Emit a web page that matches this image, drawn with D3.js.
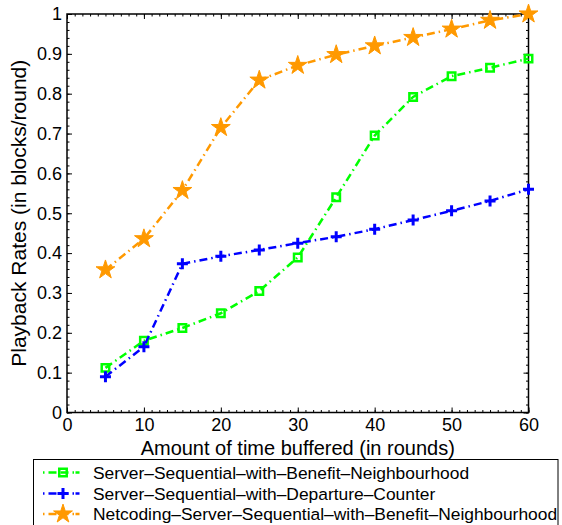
<!DOCTYPE html>
<html>
<head>
<meta charset="utf-8">
<script src="https://cdn.jsdelivr.net/npm/d3@7"></script>
<style>
  html, body { margin: 0; padding: 0; background: #fff; }
  svg { display: block; font-family: "Liberation Sans", Arial, Helvetica, sans-serif; }
</style>
</head>
<body>
<script>
// Rounds buffered (x) and playback rates for each scheme
const rounds = [5, 10, 15, 20, 25, 30, 35, 40, 45, 50, 55, 60];
const benefitNeighbourhood = [0.112, 0.180, 0.212, 0.249, 0.305, 0.389, 0.540, 0.695, 0.792, 0.844, 0.865, 0.888];
const departureCounter = [0.090, 0.165, 0.373, 0.392, 0.408, 0.425, 0.441, 0.460, 0.483, 0.506, 0.531, 0.560];
const netcodingBenefit = [0.358, 0.436, 0.557, 0.715, 0.834, 0.871, 0.898, 0.920, 0.941, 0.962, 0.984, 1.000];

const seriesNames = [
  "Server\u2013Sequential\u2013with\u2013Benefit\u2013Neighbourhood",
  "Server\u2013Sequential\u2013with\u2013Departure\u2013Counter",
  "Netcoding\u2013Server\u2013Sequential\u2013with\u2013Benefit\u2013Neighbourhood"
];
const xTicks = [0, 10, 20, 30, 40, 50, 60];
const yTicks = [0, 0.1, 0.2, 0.3, 0.4, 0.5, 0.6, 0.7, 0.8, 0.9, 1];
const xLabel = "Amount of time buffered (in rounds)";
const yLabel = "Playback Rates (in blocks/round)";

const W = 562, H = 525;
const plot = { left: 67, right: 528.5, top: 14, bottom: 412.5 };

const x = d3.scaleLinear().domain([0, 60]).range([plot.left, plot.right]);
const y = d3.scaleLinear().domain([0, 1]).range([plot.bottom, plot.top]);

const svg = d3.select("body").append("svg").attr("width", W).attr("height", H);

const series = [
  { name: seriesNames[0], values: benefitNeighbourhood, color: "#00ff00", marker: "square" },
  { name: seriesNames[1], values: departureCounter, color: "#0000ff", marker: "plus" },
  { name: seriesNames[2], values: netcodingBenefit, color: "#ff9900", marker: "star" }
];

const dash = "8,4,1.5,4";

function drawMarker(g, type, color) {
  if (type === "square") {
    g.append("path").attr("d", d3.symbol(d3.symbolSquare, 56)())
      .attr("fill", "none").attr("stroke", color).attr("stroke-width", 2.5);
  } else if (type === "plus") {
    g.append("path").attr("d", "M-5.5,0H5.5M0,-5.5V5.5")
      .attr("fill", "none").attr("stroke", color).attr("stroke-width", 3);
  } else {
    g.append("path").attr("d", d3.symbol(d3.symbolStar, 110)())
      .attr("fill", color).attr("stroke", color).attr("stroke-width", 1);
  }
}

// Axes box with inward ticks on all four sides
const axes = svg.append("g");
const xMinor = d3.range(0, 61, 1);
const yMinor = d3.range(0, 1.0001, 0.02);

function tickGroup(axisGen, transform) {
  const g = axes.append("g").attr("transform", transform).call(axisGen);
  g.select(".domain").remove();
  g.selectAll("line").attr("stroke", "#000").attr("stroke-width", 1);
  return g;
}
const fmtY = d => (d === 0 || d === 1) ? String(d) : d3.format(".1f")(d);

// minor ticks
tickGroup(d3.axisBottom(x).tickValues(xMinor).tickSize(-2.5).tickFormat(""), `translate(0,${plot.bottom})`);
tickGroup(d3.axisTop(x).tickValues(xMinor).tickSize(-2.5).tickFormat(""), `translate(0,${plot.top})`);
tickGroup(d3.axisLeft(y).tickValues(yMinor).tickSize(-2.5).tickFormat(""), `translate(${plot.left},0)`);
tickGroup(d3.axisRight(y).tickValues(yMinor).tickSize(-2.5).tickFormat(""), `translate(${plot.right},0)`);
// major ticks
const xb = tickGroup(d3.axisBottom(x).tickValues(xTicks).tickSize(-5).tickPadding(6).tickFormat(d3.format("d")), `translate(0,${plot.bottom})`);
tickGroup(d3.axisTop(x).tickValues(xTicks).tickSize(-5).tickFormat(""), `translate(0,${plot.top})`);
const yl = tickGroup(d3.axisLeft(y).tickValues(yTicks).tickSize(-5).tickPadding(5).tickFormat(fmtY), `translate(${plot.left},0)`);
tickGroup(d3.axisRight(y).tickValues(yTicks).tickSize(-5).tickFormat(""), `translate(${plot.right},0)`);

[xb, yl].forEach(g => g.selectAll("text")
  .attr("font-family", "'Liberation Sans', Arial, sans-serif")
  .attr("font-size", 18).attr("fill", "#000"));

axes.append("rect")
  .attr("x", plot.left).attr("y", plot.top)
  .attr("width", plot.right - plot.left).attr("height", plot.bottom - plot.top)
  .attr("fill", "none").attr("stroke", "#000").attr("stroke-width", 1.5);

// Series lines and markers
const line = d3.line().x((d, i) => x(rounds[i])).y(d => y(d));
const marks = svg.append("g");
series.forEach(s => {
  marks.append("path").datum(s.values).attr("d", line)
    .attr("fill", "none").attr("stroke", s.color).attr("stroke-width", 2.5)
    .attr("stroke-dasharray", dash);
  s.values.forEach((v, i) => {
    const g = marks.append("g").attr("transform", `translate(${x(rounds[i])},${y(v)})`);
    drawMarker(g, s.marker, s.color);
  });
});

// Axis titles
svg.append("text").attr("x", (plot.left + plot.right) / 2).attr("y", 455)
  .attr("text-anchor", "middle").attr("font-size", 20).text(xLabel);
svg.append("text").attr("transform", `translate(26,${(plot.top + plot.bottom) / 2}) rotate(-90)`)
  .attr("text-anchor", "middle").attr("font-size", 21).text(yLabel);

// Legend
const legend = svg.append("g");
legend.append("rect").attr("x", 33.5).attr("y", 459.5).attr("width", 524.5).attr("height", 80)
  .attr("fill", "#fff").attr("stroke", "#000").attr("stroke-width", 1);
const rowY = [472.5, 493.5, 514];
series.forEach((s, i) => {
  const yy = rowY[i];
  legend.append("line").attr("x1", 43).attr("x2", 81).attr("y1", yy).attr("y2", yy)
    .attr("stroke", s.color).attr("stroke-width", 2.5).attr("stroke-dasharray", "1.5,4,8,4,8,4,1.5");
  const g = legend.append("g").attr("transform", `translate(63,${yy})`);
  drawMarker(g, s.marker, s.color);
  legend.append("text").attr("x", 93).attr("y", yy).attr("dy", "0.36em")
    .attr("font-size", 17.4).text(s.name);
});
</script>
</body>
</html>
